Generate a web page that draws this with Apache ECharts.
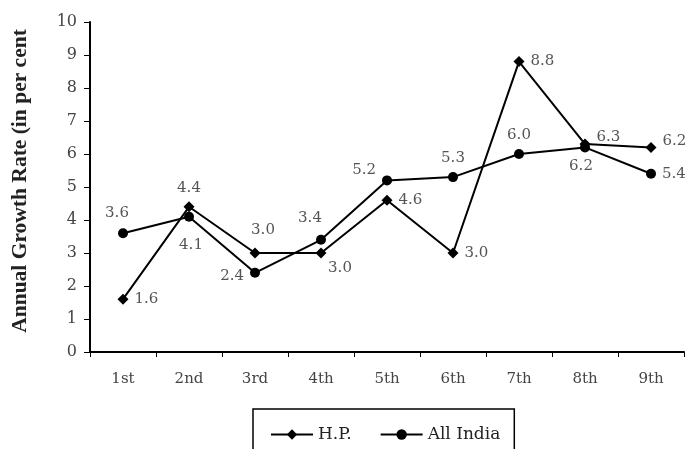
<!DOCTYPE html>
<html><head><meta charset="utf-8">
<script src="https://cdn.jsdelivr.net/npm/echarts@6/dist/echarts.min.js"></script>
<style>html,body{margin:0;padding:0;background:#fff}#c{width:686px;height:449px}</style>
</head><body><div id="c"></div>
<script>
const categories = ['1st','2nd','3rd','4th','5th','6th','7th','8th','9th'];
const hp = [1.6, 4.4, 3.0, 3.0, 4.6, 3.0, 8.8, 6.3, 6.2];
const allIndia = [3.6, 4.1, 2.4, 3.4, 5.2, 5.3, 6.0, 6.2, 5.4];
const hpLabelPos = ['right','top','top','bottom','right','right','right','right','right'];
const aiLabelPos = ['top','bottom','left','top','left','top','top','bottom','right'];
const yTitle = 'Annual Growth Rate (in per cent';

const font = 'DejaVu Serif';
const lbl = {fontFamily: font, fontSize: 15, color: '#555', formatter: p => p.value.toFixed(1)};
function mk(vals, pos, extraOffsets) {
  return vals.map((v, i) => {
    const o = {value: v, label: {position: pos[i]}};
    if (extraOffsets && extraOffsets[i]) o.label.offset = extraOffsets[i];
    return o;
  });
}
const hpOffsets = {2: [8, -4], 3: [19, -4], 7: [0, -7], 8: [0, -6]};
const aiOffsets = {0: [-6, -2], 1: [2, 10], 2: [0, 3], 3: [-11, -3], 4: [0, -10], 7: [-4, 0]};
const chart = echarts.init(document.getElementById('c'));
chart.setOption({
  animation: false,
  grid: {left: 90, right: 2, top: 22, bottom: 97, outerBoundsMode: 'none', containLabel: false},
  graphic: [{
    type: 'text', x: 20, y: 181, rotation: Math.PI / 2,
    style: {text: yTitle, fontFamily: 'Liberation Serif', fontWeight: 'bold', fontSize: 21.5,
            fill: '#222', align: 'center', verticalAlign: 'middle'}
  }],
  xAxis: {
    type: 'category', data: categories, boundaryGap: true,
    axisLine: {lineStyle: {color: '#000', width: 2}},
    axisTick: {show: true, length: 5, lineStyle: {color: '#000'}},
    axisLabel: {fontFamily: font, fontSize: 15, color: '#444', margin: 20}
  },
  yAxis: {
    type: 'value', min: 0, max: 10, interval: 1,
    axisLine: {show: true, lineStyle: {color: '#000', width: 2}},
    axisTick: {show: true, length: 6, lineStyle: {color: '#000'}},
    splitLine: {show: false},
    axisLabel: {fontFamily: font, fontSize: 16, color: '#444', margin: 13}
  },
  legend: {
    left: 253, top: 409,
    padding: [17, 14, 20, 17],
    borderColor: '#000', borderWidth: 1.5,
    itemWidth: 42, itemHeight: 13, itemGap: 28,
    textStyle: {fontFamily: font, fontSize: 17, color: '#222'},
    data: ['H.P.', 'All India']
  },
  series: [
    {name: 'H.P.', type: 'line', data: mk(hp, hpLabelPos, hpOffsets),
     symbol: 'diamond', symbolSize: 11,
     lineStyle: {color: '#000', width: 2}, itemStyle: {color: '#000'},
     label: Object.assign({show: true, distance: 6}, lbl)},
    {name: 'All India', type: 'line', data: mk(allIndia, aiLabelPos, aiOffsets),
     symbol: 'circle', symbolSize: 10,
     lineStyle: {color: '#000', width: 2}, itemStyle: {color: '#000'},
     label: Object.assign({show: true, distance: 6}, lbl)}
  ]
});
</script></body></html>
